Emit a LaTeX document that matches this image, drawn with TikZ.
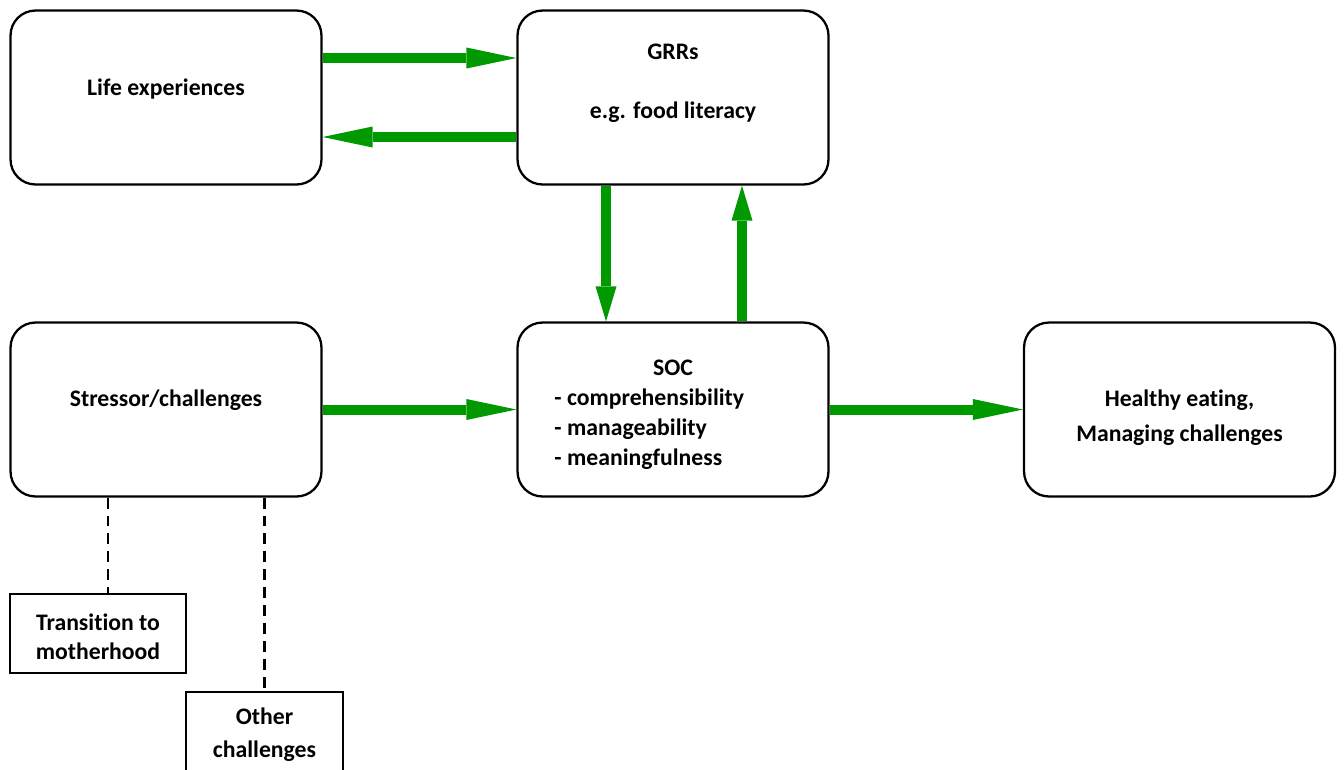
\documentclass[tikz,border=0pt]{standalone}
\usepackage{fontspec}
\setmainfont{Carlito}[Ligatures=NoCommon]
\usepackage{tikz}
\usetikzlibrary{arrows.meta,positioning}
\definecolor{arrowgreen}{RGB}{0,153,0}

\begin{document}
\begin{tikzpicture}[x=0.02cm,y=-0.02cm,
	box/.style={draw, line width=1.3pt, rounded corners=0.5cm, minimum width=6.22cm, minimum height=3.48cm, align=center, font=\fontsize{13.5}{17}\selectfont\bfseries},
	smallbox/.style={draw, line width=1.3pt, minimum height=1.58cm, align=center, font=\fontsize{13.5}{17}\selectfont\bfseries},
	flow/.style={draw=arrowgreen, line width=0.2cm, -{Triangle[length=1cm,width=0.42cm,line width=0pt]}},
	vflow/.style={draw=arrowgreen, line width=0.2cm, -{Triangle[length=0.7cm,width=0.42cm,line width=0pt]}},
	link/.style={draw, line width=1.5pt, dash pattern=on 6.2pt off 4pt}]
				\useasboundingbox (0,0) rectangle (1344,769);

				\node [box] (life)   at (166,97.5)    {Life experiences\\[-4.8pt]\mbox{}};
				\node [box] (grr)    at (673,97.5)    {GRRs\\[16.5pt]e.g. food literacy\\[1.2pt]\mbox{}};
				\node [box] (stress) at (166,409.5)   {Stressor/challenges\\[-3.8pt]\mbox{}};
				\node [box] (soc)    at (673,409.5)   {\mbox{}\\[0.5pt]SOC\\\begin{tabular}[t]{@{}l@{}}- comprehensibility\\- manageability\\- meaningfulness\end{tabular}\rule{27pt}{0pt}};
				\node [box] (heal)   at (1179.5,409.5) {\mbox{}\\[1.7pt]Healthy eating,\\[2.8pt]Managing challenges};
				\node [smallbox, minimum width=3.52cm] (trans) at (98,633.5)   {\mbox{}\\[-3.8pt]Transition to\\motherhood};
				\node [smallbox, minimum width=3.14cm] (other) at (264.5,731.5) {\mbox{}\\[-3.8pt]Other\\[2pt]challenges};

				\draw [flow]  ([yshift=0.79cm]life.east) -- ([yshift=0.79cm]grr.west);
				\draw [flow]  ([yshift=-0.79cm]grr.west) -- ([yshift=-0.79cm]life.east);
				\draw [vflow] ([xshift=-1.34cm]grr.south) -- ([xshift=-1.34cm]soc.north);
				\draw [vflow] ([xshift=1.38cm]soc.north) -- ([xshift=1.38cm]grr.south);
				\draw [flow]  (stress) -- (soc);
				\draw [flow]  (soc) -- (heal);

				\draw [link]  ([xshift=-1.16cm]stress.south) -- ([xshift=-1.16cm]stress.south |- trans.north);
				\draw [link]  (stress.south -| other.north) -- (other.north);
\end{tikzpicture}
\end{document}
